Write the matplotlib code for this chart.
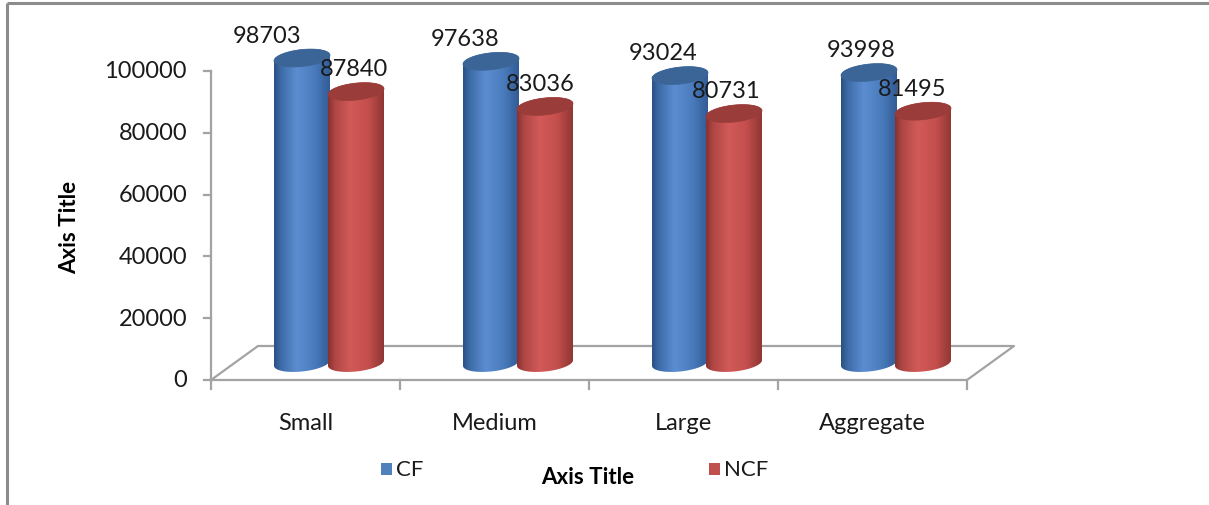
import numpy as np
import matplotlib.pyplot as plt
from matplotlib.colors import LinearSegmentedColormap
from matplotlib.patches import Polygon, Rectangle

categories = ['Small', 'Medium', 'Large', 'Aggregate']
cf = [98703, 97638, 93024, 93998]
ncf = [87840, 83036, 80731, 81495]
yticks = [0, 20000, 40000, 60000, 80000, 100000]

plt.rcParams['font.family'] = ['Lato', 'DejaVu Sans']

# pixel layout of the picture (x from left, y from top)
X0, CW = 211, 189.0        # px of category 0 and px per category
Y0, PPV = 381, 309 / 1e5   # px of value 0 and px per unit


def px(xp):
    return (xp - X0) / CW


def py(yp):
    return (Y0 - yp) / PPV


fig = plt.figure(figsize=(12.09, 5.06), dpi=100)
ax = fig.add_axes([0, 0, 1, 1])
ax.set_axis_off()

gray = '#A3A3A3'
# floor of the 3d box
dx_f, dy_f = 47 / CW, 34 / PPV
n = len(categories)
ax.plot([0, n, n + dx_f, dx_f, 0], [0, 0, dy_f, dy_f, 0], color=gray, lw=1.6, zorder=1)
ax.plot([0, 0], [0, yticks[-1]], color=gray, lw=1.6, zorder=1)
for t in yticks:
    ax.plot([0, -7 / CW], [t, t], color=gray, lw=1.6)
    ax.text(px(187), t, str(t), ha='right', va='center', fontsize=17, color='#1a1a1a')
for i in range(n + 1):
    ax.plot([i, i], [0, -9 / PPV], color=gray, lw=1.6)
for i, c in enumerate(categories):
    ax.text(i + 0.5, py(424), c, ha='center', va='center', fontsize=17, color='#1a1a1a')

ax.text(px(70), py(227), 'Axis Title', rotation=90, ha='center', va='center',
        fontsize=16, fontweight='bold')
ax.text(px(588), py(478), 'Axis Title', ha='center', va='center',
        fontsize=16, fontweight='bold')

blue_cm = LinearSegmentedColormap.from_list('b', [(0, '#2A5183'), (0.12, '#3D6BA7'), (0.4, '#5B8DD1'),
                                                  (0.72, '#4A7CBD'), (1, '#315C96')])
red_cm = LinearSegmentedColormap.from_list('r', [(0, '#873130'), (0.12, '#AE4644'), (0.4, '#D25A58'),
                                                 (0.72, '#C44F4D'), (1, '#8F3634')])

rx = 28 / CW
ry = 8.5 / PPV
shear = 0.1
dcx, dcy = 23.5 / CW, 17 / PPV


def ellipse_pts(cx, cy, t):
    xs = cx + rx * np.cos(t)
    ys = cy + ry * np.sin(t) + shear * (rx * np.cos(t)) * CW / PPV
    return np.column_stack([xs, ys])


def cylinder(cx, value, cmap, top_color):
    base = dcy
    top = dcy + value
    t_lo = np.linspace(np.pi, 2 * np.pi, 60)
    t_hi = np.linspace(0, np.pi, 60)
    outline = np.vstack([ellipse_pts(cx, base, t_lo), ellipse_pts(cx, top, t_hi)])
    body = Polygon(outline, closed=True, facecolor='none', edgecolor='none')
    ax.add_patch(body)
    grad = np.linspace(0, 1, 200).reshape(1, -1)
    im = ax.imshow(grad, cmap=cmap, aspect='auto', interpolation='bicubic',
                   extent=[cx - rx, cx + rx, base - 3 * ry, top + 3 * ry], zorder=2)
    im.set_clip_path(body)
    cap = Polygon(ellipse_pts(cx, top, np.linspace(0, 2 * np.pi, 100)), closed=True,
                  facecolor=top_color, edgecolor=top_color, lw=0.5, zorder=3)
    ax.add_patch(cap)
    return top


for i in range(n):
    center = i + 0.5 + dcx
    c1 = center - 27 / CW
    c2 = center + 27 / CW
    top1 = cylinder(c1, cf[i], blue_cm, '#3C6597')
    ax.text(c1 + (-35 + 9 * i) / CW, top1 + 23 / PPV, str(cf[i]), ha='center', va='center',
            fontsize=17, color='#1a1a1a', zorder=5)
    top2 = cylinder(c2, ncf[i], red_cm, '#9A3C3A')
    ax.text(c2 + (-2 - 3 * i) / CW, top2 + 23 / PPV, str(ncf[i]), ha='center', va='center',
            fontsize=17, color='#1a1a1a', zorder=5)

# legend
ax.add_patch(Rectangle((px(381), py(476)), 11 / CW, 12 / PPV, facecolor='#4F81BD', edgecolor='none'))
ax.text(px(396), py(470), 'CF', ha='left', va='center', fontsize=16, color='#1a1a1a')
ax.add_patch(Rectangle((px(709), py(476)), 11 / CW, 12 / PPV, facecolor='#C0504D', edgecolor='none'))
ax.text(px(724), py(470), 'NCF', ha='left', va='center', fontsize=16, color='#1a1a1a')

# outer chart border (top and left)
border = '#8C8C8C'
ax.plot([px(7), px(1209)], [py(4), py(4)], color=border, lw=2.2, solid_capstyle='butt')
ax.plot([px(7), px(7)], [py(4), py(506)], color=border, lw=2.2, solid_capstyle='butt')

ax.set_xlim(px(0), px(1209))
ax.set_ylim(py(506), py(0))

fig.savefig('out.png', dpi=100)
